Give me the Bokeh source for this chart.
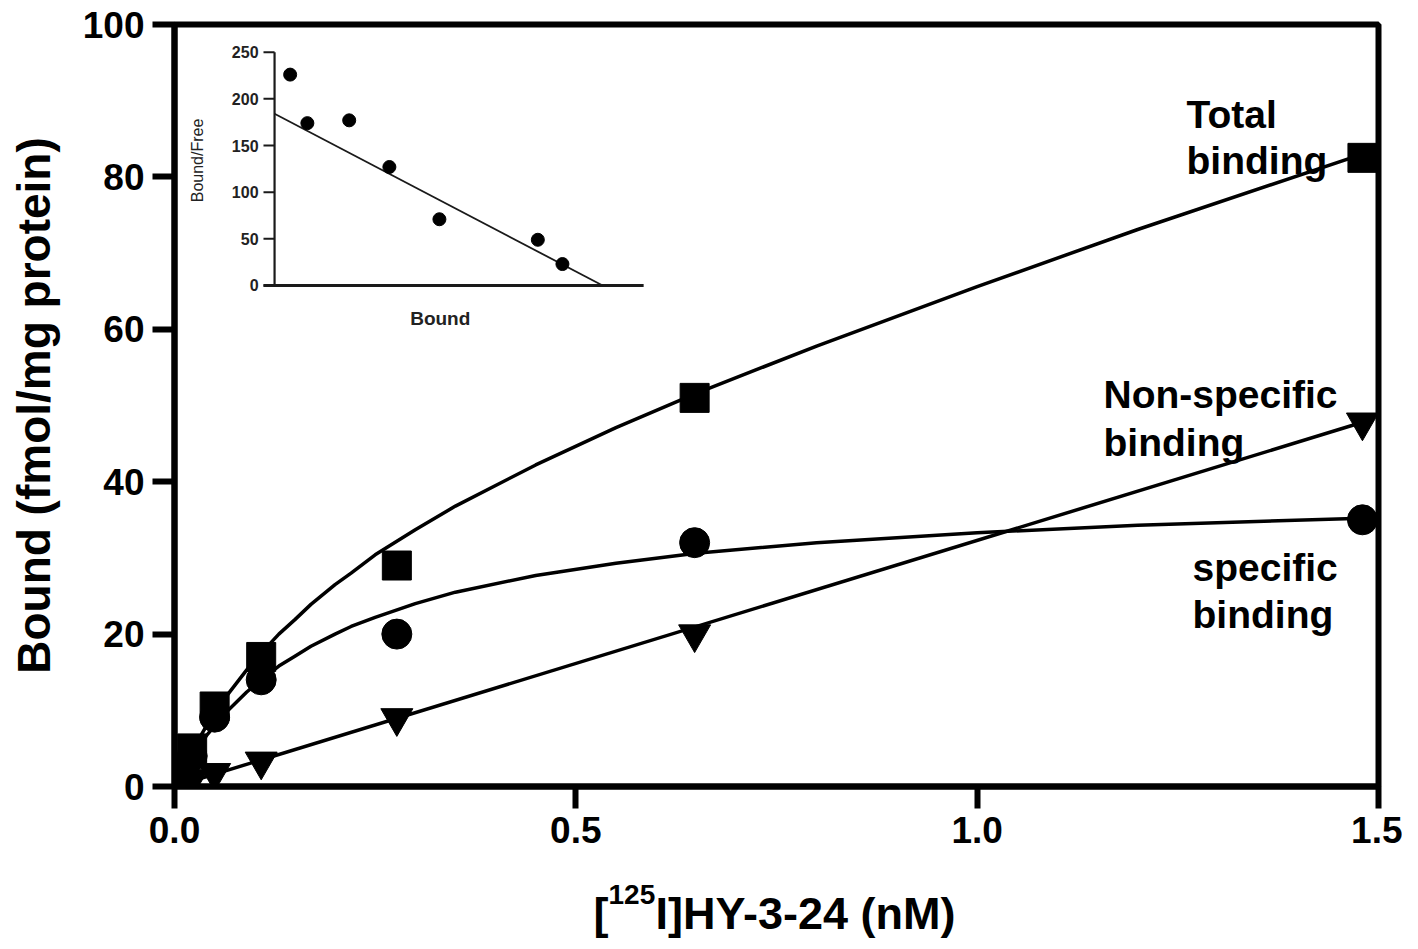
from math import pi
from bokeh.plotting import figure
from bokeh.layouts import column
from bokeh.models import Range1d, FixedTicker, PrintfTickFormatter, Label
from bokeh.core.properties import value
from bokeh.embed import file_html
from bokeh.resources import INLINE

# ---------------- data ----------------
conc = [0.003, 0.011, 0.022, 0.05, 0.108, 0.277, 0.648, 1.48]
total = [0.8, 2.0, 5.0, 10.5, 17.0, 29.0, 51.0, 82.5]
specific = [0.6, 1.9, 4.0, 9.1, 14.0, 20.0, 32.0, 35.0]
nonspecific = [0.2, 0.4, 1.0, 1.8, 3.3, 9.0, 20.0, 47.8]

curve_x = [0, 0.01, 0.022, 0.04, 0.065, 0.09, 0.108, 0.13, 0.15, 0.17, 0.2, 0.22,
           0.25, 0.3, 0.35, 0.45, 0.55, 0.65, 0.8, 1.0, 1.2, 1.48]
total_fit = [0, 2.2, 4.7, 8.0, 11.9, 15.3, 17.5, 20.0, 21.9, 23.9, 26.5, 28.0,
             30.4, 33.7, 36.8, 42.2, 47.1, 51.6, 57.8, 65.6, 73.1, 83.0]
specific_fit = [0, 1.9, 3.96, 6.7, 9.8, 12.4, 14.0, 15.8, 17.1, 18.4, 20.0, 21.0,
                22.2, 24.0, 25.5, 27.7, 29.3, 30.6, 32.0, 33.3, 34.3, 35.2]
nonspec_fit_x = [0, 1.48]
nonspec_fit_y = [0, 47.8]

x_ticks = [0.0, 0.5, 1.0, 1.5]
y_ticks = [0, 20, 40, 60, 80, 100]

x_label_parts = ["[", "125", "I]HY-3-24 (nM)"]

# Scatchard inset
inset_bound = [1.9, 4.0, 9.1, 14.0, 20.1, 32.1, 35.1]
inset_bf = [226, 174, 177, 127, 71, 49, 23]
inset_fit_x = [0, 40.0]
inset_fit_y = [184, 0]
inset_y_ticks = [0, 50, 100, 150, 200, 250]
inset_x_end = 45

FONT = "Liberation Sans"
W = 1402
BL, BR = 174, 24

# ---------------- main figure ----------------
p = figure(width=W, height=866, x_range=Range1d(0, 1.5), y_range=Range1d(0, 100),
           output_backend="svg", toolbar_location=None,
           min_border_left=BL, min_border_top=24, min_border_right=BR, min_border_bottom=80)
p.background_fill_color = "white"
p.border_fill_color = "white"
p.xgrid.visible = False
p.ygrid.visible = False
p.outline_line_color = "black"
p.outline_line_width = 6
p.outline_line_alpha = 1.0

for ax in (p.xaxis[0], p.yaxis[0]):
    ax.axis_line_width = 6
    ax.axis_line_color = "black"
    ax.major_tick_line_width = 6
    ax.major_tick_line_color = "black"
    ax.major_tick_out = 22
    ax.major_tick_in = 0
    ax.minor_tick_line_color = None
    ax.major_label_text_font = FONT
    ax.major_label_text_font_style = "bold"
    ax.major_label_text_font_size = "37px"
    ax.major_label_text_color = "black"

p.xaxis.ticker = FixedTicker(ticks=x_ticks)
p.xaxis.formatter = PrintfTickFormatter(format="%.1f")
p.xaxis.major_label_standoff = 8
p.yaxis.ticker = FixedTicker(ticks=y_ticks)
p.yaxis.major_label_standoff = 8

p.yaxis.axis_label = "Bound (fmol/mg protein)"
p.yaxis.axis_label_text_font = FONT
p.yaxis.axis_label_text_font_style = "bold"
p.yaxis.axis_label_text_font_size = "46px"
p.yaxis.axis_label_text_color = "black"
p.yaxis.axis_label_standoff = 20

# ---------------- main curves & markers ----------------
LW = 3.5
p.line(curve_x, total_fit, line_color="black", line_width=LW)
p.line(curve_x, specific_fit, line_color="black", line_width=LW)
p.line(nonspec_fit_x, nonspec_fit_y, line_color="black", line_width=LW)

p.scatter(conc, nonspecific, marker="inverted_triangle", size=32, fill_color="black", line_color="black")
p.scatter(conc, specific, marker="circle", size=30, fill_color="black", line_color="black")
p.scatter(conc, total, marker="square", size=29, fill_color="black", line_color="black")

# series annotations
ANN = "39px"
for txt, x, y in [("Total", 1.2608, 88.2), ("binding", 1.2608, 82.15),
                  ("Non-specific", 1.1574, 51.4), ("binding", 1.1574, 45.1),
                  ("specific", 1.2683, 28.7), ("binding", 1.2683, 22.6)]:
    p.add_layout(Label(x=x, y=y, text=txt, text_font=FONT, text_font_style="bold",
                       text_font_size=ANN, text_align="left", text_baseline="alphabetic",
                       text_color="black"))

# ---------------- inset (Scatchard plot) ----------------
p.extra_x_ranges = {"ix": Range1d(-12.2, 134.6)}
p.extra_y_ranges = {"iy": Range1d(-536.9, 279.7)}
IK = dict(x_range_name="ix", y_range_name="iy")
tick_len = 1.35
ICOL = "#1a1a1a"

p.segment(x0=[0], y0=[min(inset_y_ticks)], x1=[0], y1=[max(inset_y_ticks)],
          line_color=ICOL, line_width=2.2, **IK)
p.segment(x0=[-tick_len], y0=[0], x1=[inset_x_end], y1=[0], line_color=ICOL, line_width=3, **IK)
p.segment(x0=[-tick_len] * len(inset_y_ticks), y0=inset_y_ticks, x1=[0] * len(inset_y_ticks),
          y1=inset_y_ticks, line_color=ICOL, line_width=2, **IK)
p.text(x=[-1.95] * len(inset_y_ticks), y=inset_y_ticks, text=[str(t) for t in inset_y_ticks],
       text_font=value(FONT), text_font_style="bold", text_font_size="16px",
       text_align="right", text_baseline="middle", text_color="#222222", **IK)
p.text(x=[-9.4], y=[134], text=["Bound/Free"], angle=pi / 2, text_font=value(FONT),
       text_font_size="16px", text_align="center", text_baseline="middle",
       text_color="#222222", **IK)
p.text(x=[20.2], y=[-35.4], text=["Bound"], text_font=value(FONT), text_font_style="bold",
       text_font_size="19px", text_align="center", text_baseline="middle",
       text_color="#222222", **IK)
p.line(inset_fit_x, inset_fit_y, line_color=ICOL, line_width=1.8, **IK)
p.scatter(inset_bound, inset_bf, marker="circle", size=13, fill_color="black",
          line_color="black", **IK)

# ---------------- x-axis label strip (with superscript) ----------------
SH = 80
strip = figure(width=W, height=SH, x_range=Range1d(0, 1.5), y_range=Range1d(0, SH),
               output_backend="svg", toolbar_location=None, x_axis_type=None, y_axis_type=None,
               min_border_left=BL, min_border_right=BR, min_border_top=0, min_border_bottom=0)
strip.outline_line_color = None
strip.xgrid.visible = False
strip.ygrid.visible = False
strip.background_fill_color = "white"
strip.border_fill_color = "white"
lx = 0.522
base_y = 33
sup_y = 52
strip.text(x=[lx], y=[base_y], text=[x_label_parts[0]], text_font=value(FONT), text_font_style="bold",
           text_font_size="45px", text_align="left", text_baseline="alphabetic")
strip.text(x=[lx], y=[sup_y], x_offset=15, text=[x_label_parts[1]], text_font=value(FONT),
           text_font_style="bold", text_font_size="28px", text_align="left",
           text_baseline="alphabetic")
strip.text(x=[lx], y=[base_y], x_offset=62, text=[x_label_parts[2]], text_font=value(FONT),
           text_font_style="bold", text_font_size="45px", text_align="left",
           text_baseline="alphabetic")

layout = column(p, strip, spacing=0)
open("out.html", "w").write(file_html(layout, INLINE))
